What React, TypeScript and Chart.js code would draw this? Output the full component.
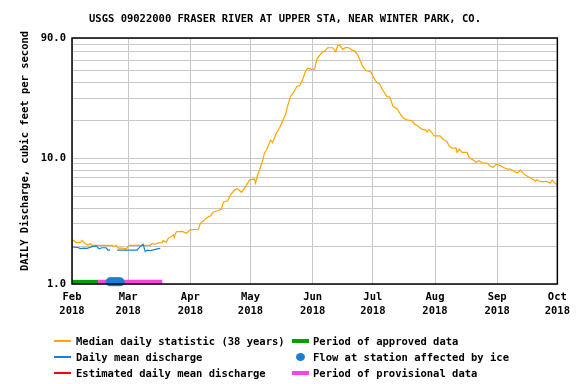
import React, { useEffect, useRef } from 'react';
import { Chart, registerables } from 'chart.js';

Chart.register(...registerables);

const TITLE = 'USGS 09022000 FRASER RIVER AT UPPER STA, NEAR WINTER PARK, CO.';
const Y_TITLE = 'DAILY Discharge, cubic feet per second';

// x axis: days since Feb 1, 2018
const monthDays = [0, 28, 59, 89, 120, 150, 181, 212, 242];
const monthLabels = ['Feb', 'Mar', 'Apr', 'May', 'Jun', 'Jul', 'Aug', 'Sep', 'Oct'];
const yearLabel = '2018';

const yTicks = [1, 2, 3, 4, 5, 6, 7, 8, 9, 10, 20, 30, 40, 50, 60, 70, 80, 90];
const yLabeled = [1, 10, 90];

// Median daily statistic (38 years)
const medianDays = [
  0, 1, 2, 4, 5, 6.5, 8, 9, 10, 20,
  21, 22, 23, 25, 27, 28, 28.5, 39, 40, 41.5,
  43, 45, 45.5, 47, 48, 49, 50.5, 51, 52, 55,
  57, 59, 63, 64, 66, 67.5, 69, 70.5, 72.5, 74.5,
  75.5, 77.5, 79, 81, 82.5, 84.5, 87, 88.5, 91, 91.5,
  92.5, 93.5, 95, 96, 97, 99, 100, 101, 102, 103.5,
  105, 106.5, 107.5, 109, 110.5, 112, 113.5, 115, 116.5, 117.5,
  119.5, 121, 122, 123, 124.5, 126, 127.5, 130, 131.5, 132.5,
  133.5, 135, 136.5, 138, 139.5, 141, 142.5, 144, 145, 146.5,
  149, 150, 151.5, 153.5, 154.5, 156, 157, 158.5, 160, 162,
  163.5, 165, 167, 169.5, 171, 172.5, 174.5, 176.5, 177, 178,
  179.5, 180.5, 183.5, 185, 187, 188, 189.5, 191.5, 192, 193,
  194.5, 197, 198, 200, 201.5, 203, 204.5, 207, 209, 210,
  211.5, 213, 215, 217, 218.5, 220, 221.5, 222.5, 223.5, 225,
  226, 227.5, 229.5, 231, 232, 233.5, 237, 238.5, 239.5, 240.5,
  242,
];
const medianCfs = [
  2.17, 2.22, 2.13, 2.13, 2.22, 2.10, 2.04, 2.10, 2.03, 2.03,
  1.98, 2.03, 1.93, 1.93, 1.90, 1.98, 2.03, 2.03, 2.10, 2.07,
  2.12, 2.13, 2.22, 2.14, 2.31, 2.35, 2.45, 2.35, 2.60, 2.62,
  2.53, 2.69, 2.72, 3.03, 3.22, 3.39, 3.47, 3.73, 3.82, 3.92,
  4.48, 4.56, 5.09, 5.58, 5.71, 5.35, 6.11, 6.70, 6.82, 6.31,
  7.34, 8.04, 9.53, 11.0, 11.6, 13.9, 13.3, 14.5, 15.9, 17.4,
  19.7, 22.3, 25.9, 31.1, 33.1, 36.9, 37.8, 42.2, 49.2, 51.7,
  50.7, 50.7, 60.9, 63.9, 68.7, 70.9, 75.3, 75.3, 70.0, 78.7,
  79.1, 73.1, 75.9, 75.3, 72.2, 70.9, 65.9, 58.0, 53.2, 49.8,
  48.3, 44.9, 40.9, 38.5, 35.6, 32.7, 30.8, 30.6, 25.9, 24.7,
  22.7, 20.9, 20.1, 19.8, 18.5, 18.0, 16.9, 16.7, 16.1, 16.9,
  15.9, 15.0, 15.0, 14.1, 13.5, 12.5, 12.0, 12.0, 11.1, 11.8,
  11.1, 11.1, 10.1, 9.66, 9.27, 9.54, 9.19, 9.09, 8.55, 8.45,
  8.93, 8.81, 8.45, 8.19, 8.19, 7.94, 7.66, 7.66, 8.04, 7.57,
  7.34, 7.11, 6.82, 6.58, 6.70, 6.50, 6.50, 6.31, 6.70, 6.38,
  6.11,
];

// Daily mean discharge
const dailyDays = [0, 3.5, 4, 6, 7.5, 10, 12, 13.5, 15, 17, 18, 19, 21, 22.5, 27.5, 32.5, 34, 35.5, 36.5, 37.5, 39, 42, 44];
const dailyCfs = [1.97, 1.94, 1.91, 1.93, 1.92, 1.98, 2.01, 1.90, 1.94, 1.94, 1.86, 1.86, null, 1.86, 1.86, 1.86, 1.98, 2.07, 1.81, 1.86, 1.84, 1.89, 1.92];

// Data-status flags along the bottom
const approvedPeriod = [0, 13];
const provisionalPeriod = [13, 45];
const iceDays = [19, 20, 21, 22, 23, 24];
const flagLevel = 1.04;

const ORANGE = '#ffa500';
const BLUE = '#1a7fd0';
const RED = '#ff0000';
const GREEN = '#00a000';
const PINK = '#f447e0';
const FONT_FAMILY = '"DejaVu Sans Mono", "Liberation Mono", monospace';
const FONT_SIZE = 10.5;

const frame = {
  id: 'frame',
  afterDraw(chart: any) {
    const { ctx, chartArea } = chart;
    ctx.save();
    ctx.strokeStyle = '#000';
    ctx.lineWidth = 1.5;
    ctx.strokeRect(chartArea.left, chartArea.top, chartArea.right - chartArea.left, chartArea.bottom - chartArea.top);
    ctx.fillStyle = '#000';
    ctx.font = `bold ${FONT_SIZE}px ${FONT_FAMILY}`;
    ctx.textAlign = 'center';
    ctx.textBaseline = 'middle';
    ctx.fillText(TITLE, 285, 19);
    ctx.translate(25, 151);
    ctx.rotate(-Math.PI / 2);
    ctx.fillText(Y_TITLE, 0, 0);
    ctx.restore();
  },
};

function LegendItem(props: { left: number; top: number; gap: number; kind: string; color: string; text: string }) {
  const { left, top, gap, kind, color, text } = props;
  let sample: React.ReactNode;
  if (kind === 'dot') {
    sample = (
      <span style={{ position: 'absolute', left: left + 4, top: top - 4, width: 9, height: 8, borderRadius: '50%', backgroundColor: color }} />
    );
  } else if (kind === 'bar') {
    sample = <span style={{ position: 'absolute', left, top: top - 2, width: 17, height: 4, backgroundColor: color }} />;
  } else {
    sample = <span style={{ position: 'absolute', left, top: top - 1, width: 17, height: 2, backgroundColor: color }} />;
  }
  return (
    <>
      {sample}
      <span
        style={{
          position: 'absolute',
          left: left + 17 + gap,
          top: top - 8,
          height: 16,
          lineHeight: '16px',
          fontFamily: FONT_FAMILY,
          fontWeight: 'bold',
          fontSize: FONT_SIZE,
          color: '#000',
          whiteSpace: 'pre',
        }}
      >
        {text}
      </span>
    </>
  );
}

export default function App() {
  const canvasRef = useRef<HTMLCanvasElement | null>(null);

  useEffect(() => {
    const canvas = canvasRef.current;
    if (!canvas) return;
    const font = { family: FONT_FAMILY, size: FONT_SIZE, weight: 'bold' as const };
    const chart = new Chart(canvas, {
      type: 'line',
      data: {
        datasets: [
          {
            label: 'Flow at station affected by ice',
            data: iceDays.map((d) => ({ x: d, y: flagLevel })),
            showLine: false,
            pointRadius: 4.5,
            pointBackgroundColor: BLUE,
            pointBorderColor: BLUE,
            pointBorderWidth: 0,
            clip: false as any,
          },
          {
            label: 'Period of provisional data',
            data: provisionalPeriod.map((d) => ({ x: d, y: flagLevel })),
            borderColor: PINK,
            borderWidth: 4,
            pointRadius: 0,
            clip: false as any,
          },
          {
            label: 'Period of approved data',
            data: approvedPeriod.map((d) => ({ x: d, y: flagLevel })),
            borderColor: GREEN,
            borderWidth: 4,
            pointRadius: 0,
            clip: false as any,
          },
          {
            label: 'Daily mean discharge',
            data: dailyDays.map((d, i) => ({ x: d, y: dailyCfs[i] as any })),
            borderColor: BLUE,
            borderWidth: 1.2,
            pointRadius: 0,
            spanGaps: false,
          },
          {
            label: 'Median daily statistic (38 years)',
            data: medianDays.map((d, i) => ({ x: d, y: medianCfs[i] })),
            borderColor: ORANGE,
            borderWidth: 1.2,
            pointRadius: 0,
          },
        ],
      },
      options: {
        responsive: false,
        animation: false,
        devicePixelRatio: 1,
        layout: { padding: { left: 0, right: 18, top: 38, bottom: 0 } },
        plugins: {
          legend: { display: false },
          tooltip: { enabled: false },
          title: { display: false },
        },
        scales: {
          x: {
            type: 'linear',
            min: 0,
            max: 242,
            afterBuildTicks: (scale: any) => {
              scale.ticks = monthDays.map((v) => ({ value: v }));
            },
            afterFit: (scale: any) => {
              scale.height = 100;
            },
            grid: { color: '#c8c8c8', lineWidth: 1, drawTicks: false },
            border: { display: false },
            ticks: {
              autoSkip: false,
              maxRotation: 0,
              padding: 6,
              color: '#000',
              font: { ...font, lineHeight: 1.33 },
              callback: (_v: any, i: number) => [monthLabels[i], yearLabel],
            },
          },
          y: {
            type: 'logarithmic',
            min: 1,
            max: 90,
            afterBuildTicks: (scale: any) => {
              scale.ticks = yTicks.map((v) => ({ value: v }));
            },
            afterFit: (scale: any) => {
              scale.width = 72;
            },
            grid: { color: '#c8c8c8', lineWidth: 1, drawTicks: false },
            border: { display: false },
            ticks: {
              autoSkip: false,
              padding: 6,
              color: '#000',
              font,
              callback: (v: any) => (yLabeled.includes(Number(v)) ? Number(v).toFixed(1) : ''),
            },
          },
        },
      },
      plugins: [frame],
    });
    return () => chart.destroy();
  }, []);

  return (
    <div style={{ position: 'fixed', left: 0, top: 0, width: 576, height: 384, backgroundColor: '#fff' }}>
      <canvas ref={canvasRef} width={576} height={384} style={{ display: 'block', width: 576, height: 384 }} />
      <LegendItem left={54} top={341} gap={5} kind="line" color={ORANGE} text="Median daily statistic (38 years)" />
      <LegendItem left={54} top={357} gap={5} kind="line" color={BLUE} text="Daily mean discharge" />
      <LegendItem left={54} top={373} gap={5} kind="line" color={RED} text="Estimated daily mean discharge" />
      <LegendItem left={292} top={341} gap={4} kind="bar" color={GREEN} text="Period of approved data" />
      <LegendItem left={292} top={357} gap={4} kind="dot" color={BLUE} text="Flow at station affected by ice" />
      <LegendItem left={292} top={373} gap={4} kind="bar" color={PINK} text="Period of provisional data" />
    </div>
  );
}
